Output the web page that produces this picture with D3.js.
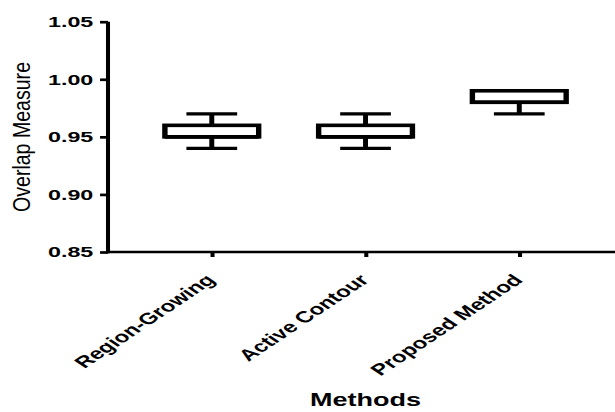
<!DOCTYPE html>
<html>
<head>
<meta charset="utf-8">
<script src="https://cdn.jsdelivr.net/npm/d3@7"></script>
<style>
  body { margin: 0; background: #fff; }
  svg { display: block; }
  text { font-family: "Liberation Sans", Arial, sans-serif; fill: #000; }
</style>
</head>
<body>
<div id="chart"></div>
<script>
// DATA
var methods = ["Region-Growing", "Active Contour", "Proposed Method"];
var whiskerLow = [0.94, 0.94, 0.97];
var boxLow = [0.95, 0.95, 0.98];
var medians = [0.95, 0.95, 0.98];
var boxHigh = [0.96, 0.96, 0.99];
var whiskerHigh = [0.97, 0.97, 0.99];
var yTicks = [0.85, 0.90, 0.95, 1.00, 1.05];

(function () {
  var width = 615, height = 412,
    stretch = 1.5,              // the picture is stretched sideways
    vw = width / stretch,
    margin = { top: 21.7, left: 72 },
    plotBottom = 252;

  var svg = d3.select("#chart").append("svg")
    .attr("width", width)
    .attr("height", height);

  var g = svg.append("g")
    .attr("transform", "scale(" + stretch + ",1)");

  var x = d3.scalePoint()
    .domain(methods)
    .range([margin.left, margin.left + (2 + 2 * 0.675) * 102.5])
    .padding(0.675);

  var y = d3.scaleLinear()
    .domain([0.85, 1.05])
    .range([plotBottom, margin.top]);

  var data = methods.map(function (m, i) {
    return { name: m, lo: whiskerLow[i], q1: boxLow[i], med: medians[i], q3: boxHigh[i], hi: whiskerHigh[i] };
  });

  var step = x.step(),
    boxW = step * 0.61,
    capW = step * 0.33;

  // AXES
  var yAxis = g.append("g")
    .attr("class", "axis axis--y")
    .attr("transform", "translate(" + margin.left + ",0)")
    .call(d3.axisLeft(y).tickValues(yTicks).tickFormat(d3.format(".2f")).tickSize(5.3).tickPadding(4.5));

  var xAxis = g.append("g")
    .attr("class", "axis axis--x")
    .attr("transform", "translate(0," + plotBottom + ")")
    .call(d3.axisBottom(x).tickSize(5).tickSizeOuter(0).tickFormat(""));

  g.selectAll(".axis path, .axis line")
    .attr("stroke", "#000")
    .attr("stroke-width", 2.7);
  g.selectAll(".axis--y text")
    .attr("font-size", 15.5)
    .attr("font-weight", "bold")
    .attr("font-family", "'Liberation Sans', Arial, sans-serif");
  xAxis.select(".domain").attr("d", "M" + margin.left + ",0H" + (vw + 10));
  yAxis.select(".domain").attr("d", "M0," + (plotBottom + 1.35) + "V" + margin.top);

  // category labels
  g.selectAll(".xlabel")
    .data(methods)
    .enter().append("text")
    .attr("class", "xlabel")
    .attr("transform", function (d) { return "translate(" + (x(d) + 3) + "," + (plotBottom + 29) + ") rotate(-45)"; })
    .attr("text-anchor", "end")
    .attr("font-size", 16)
    .attr("font-weight", "bold")
    .text(function (d) { return d; });

  // titles
  g.append("text")
    .attr("transform", "translate(20,137) rotate(-90)")
    .attr("text-anchor", "middle")
    .attr("font-size", 16)
    .attr("textLength", 150)
    .attr("lengthAdjust", "spacingAndGlyphs")
    .text("Overlap Measure");

  g.append("text")
    .attr("x", (x.range()[0] + x.range()[1]) / 2)
    .attr("y", 406)
    .attr("text-anchor", "middle")
    .attr("font-size", 18)
    .attr("font-weight", "bold")
    .text("Methods");

  // BOXES
  var boxes = g.selectAll(".box")
    .data(data)
    .enter().append("g")
    .attr("class", "box");

  boxes.append("line")
    .attr("x1", function (d) { return x(d.name); })
    .attr("x2", function (d) { return x(d.name); })
    .attr("y1", function (d) { return y(d.hi); })
    .attr("y2", function (d) { return y(d.lo); })
    .attr("stroke", "#000")
    .attr("stroke-width", 3.3);

  boxes.selectAll(".cap")
    .data(function (d) { return [{ name: d.name, v: d.hi }, { name: d.name, v: d.lo }]; })
    .enter().append("line")
    .attr("class", "cap")
    .attr("x1", function (d) { return x(d.name) - capW / 2; })
    .attr("x2", function (d) { return x(d.name) + capW / 2; })
    .attr("y1", function (d) { return y(d.v); })
    .attr("y2", function (d) { return y(d.v); })
    .attr("stroke", "#000")
    .attr("stroke-width", 3.3);

  boxes.append("rect")
    .attr("x", function (d) { return x(d.name) - boxW / 2; })
    .attr("y", function (d) { return y(d.q3); })
    .attr("width", boxW)
    .attr("height", function (d) { return y(d.q1) - y(d.q3); })
    .attr("fill", "#fff")
    .attr("stroke", "#000")
    .attr("stroke-width", 3.6);

  boxes.append("line")
    .attr("x1", function (d) { return x(d.name) - boxW / 2; })
    .attr("x2", function (d) { return x(d.name) + boxW / 2; })
    .attr("y1", function (d) { return y(d.med); })
    .attr("y2", function (d) { return y(d.med); })
    .attr("stroke", "#000")
    .attr("stroke-width", 3.6);
})();
</script>
</body>
</html>
